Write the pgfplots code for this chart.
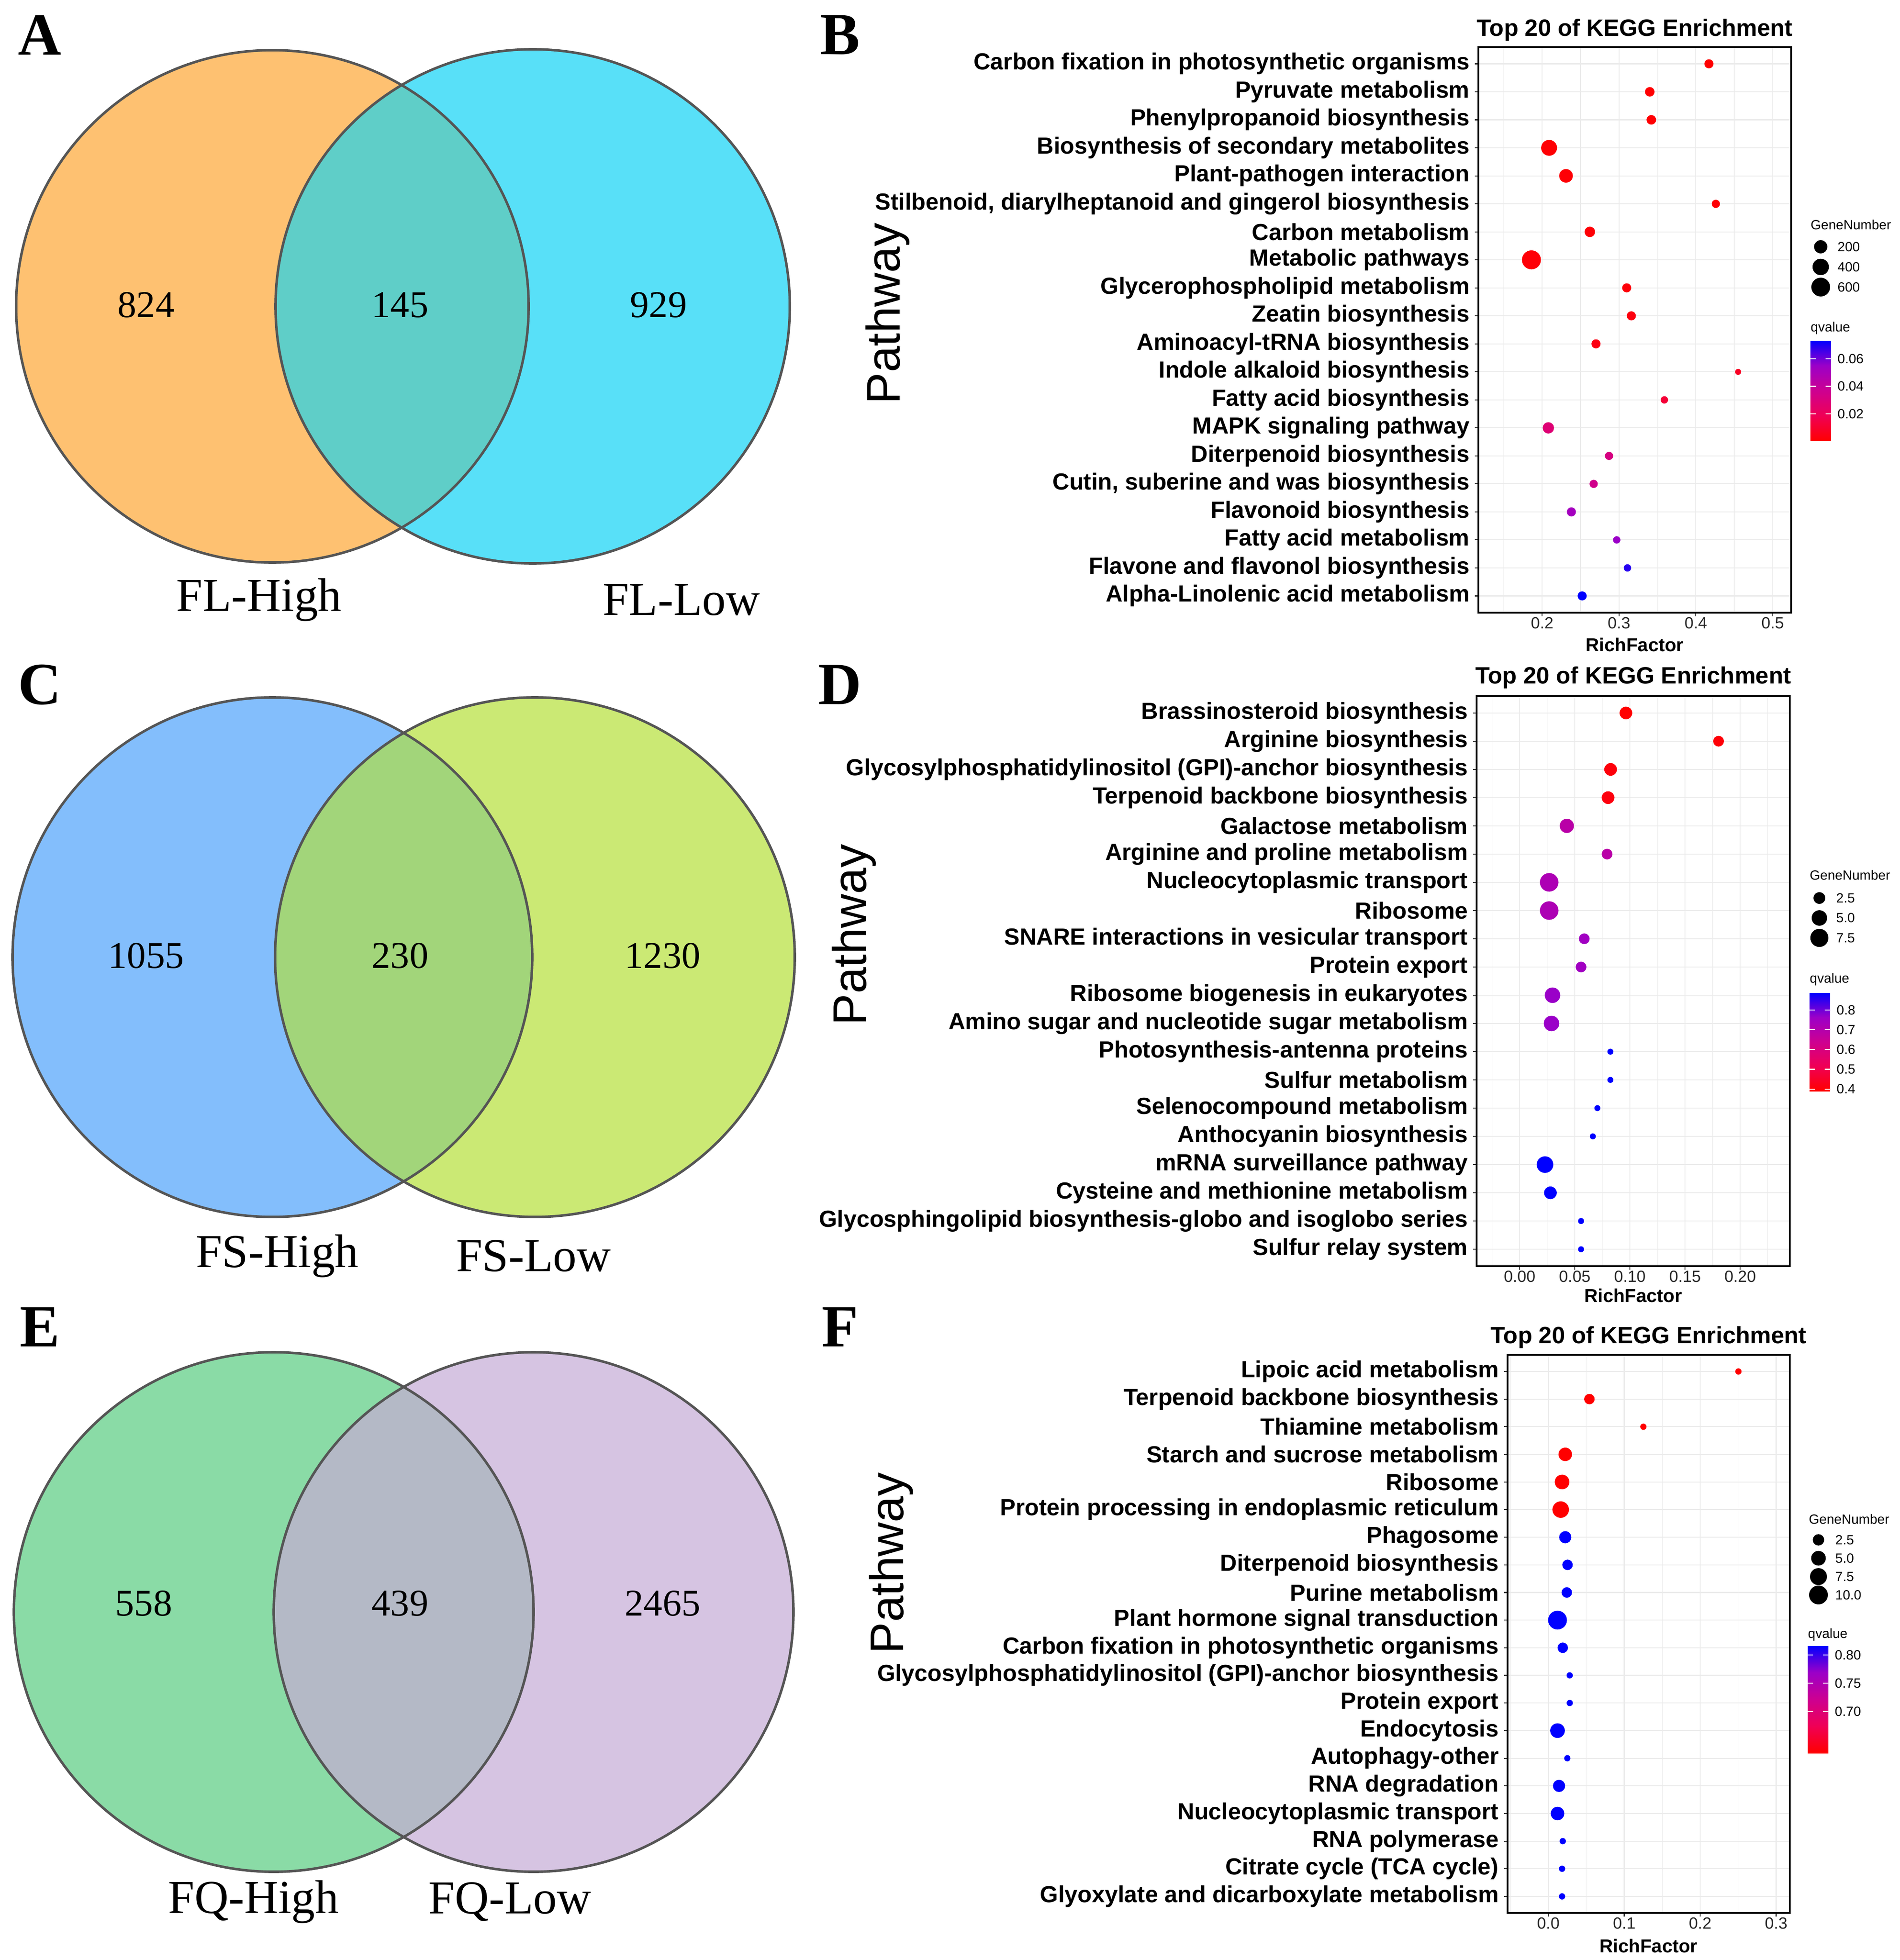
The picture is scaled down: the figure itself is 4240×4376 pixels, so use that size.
\documentclass[border=0pt]{standalone}
\usepackage{fontspec}
\setmainfont{Liberation Serif}
\setsansfont{Liberation Sans}
\usepackage{pgfplots}
\usepackage{pgfplotstable}
\pgfplotsset{compat=1.18}

% venn colours
\definecolor{aL}{RGB}{254,193,113}
\definecolor{aR}{RGB}{88,224,248}
\definecolor{aO}{RGB}{95,206,200}
\definecolor{cL}{RGB}{131,190,252}
\definecolor{cR}{RGB}{203,233,116}
\definecolor{cO}{RGB}{162,213,122}
\definecolor{eL}{RGB}{138,219,166}
\definecolor{eR}{RGB}{214,196,226}
\definecolor{eO}{RGB}{180,185,198}
\definecolor{vline}{RGB}{85,85,85}
\definecolor{gridc}{RGB}{235,235,235}

\newcommand\catfont{\sffamily\bfseries\fontsize{14.8}{17}\selectfont}
\newcommand\tickfont{\sffamily\fontsize{10.3}{12}\selectfont}
\newcommand\legfont{\sffamily\fontsize{8.5}{10}\selectfont}
\newcommand\titlefont{\sffamily\bfseries\fontsize{15}{18}\selectfont}
\newcommand\xlabfont{\sffamily\bfseries\fontsize{11.9}{14}\selectfont}
\newcommand\pathfont{\sffamily\fontsize{30}{34}\selectfont}
\newcommand\numfont{\rmfamily\fontsize{24}{27}\selectfont}
\newcommand\setfont{\rmfamily\fontsize{30}{34}\selectfont}
\newcommand\letterfont{\rmfamily\bfseries\fontsize{38}{42}\selectfont}

% KEGG tables: pathway; RichFactor; GeneNumber; qvalue
\pgfplotstableread[col sep=semicolon]{
name;rich;gene;q
Carbon fixation in photosynthetic organisms;0.417;45;0.0002
Pyruvate metabolism;0.340;56;0.0004
Phenylpropanoid biosynthesis;0.342;56;0.0006
Biosynthesis of secondary metabolites;0.209;361;0.0008
Plant-pathogen interaction;0.231;220;0.0010
{Stilbenoid, diarylheptanoid and gingerol biosynthesis};0.426;28;0.0012
Carbon metabolism;0.262;83;0.0014
Metabolic pathways;0.186;620;0.0016
Glycerophospholipid metabolism;0.310;45;0.0020
Zeatin biosynthesis;0.316;45;0.0030
Aminoacyl-tRNA biosynthesis;0.270;45;0.0040
Indole alkaloid biosynthesis;0.455;10;0.0080
Fatty acid biosynthesis;0.359;17;0.0120
MAPK signaling pathway;0.208;114;0.0280
Diterpenoid biosynthesis;0.287;28;0.0320
{Cutin, suberine and was biosynthesis};0.267;28;0.0350
Flavonoid biosynthesis;0.238;45;0.0520
Fatty acid metabolism;0.297;17;0.0550
Flavone and flavonol biosynthesis;0.311;17;0.0690
Alpha-Linolenic acid metabolism;0.252;45;0.0735
}\tabB

\pgfplotstableread[col sep=semicolon]{
name;rich;gene;q
Brassinosteroid biosynthesis;0.0964;3;0.390
Arginine biosynthesis;0.1804;2;0.400
Glycosylphosphatidylinositol (GPI)-anchor biosynthesis;0.0825;3;0.405
Terpenoid backbone biosynthesis;0.0802;3;0.410
Galactose metabolism;0.0428;4;0.690
Arginine and proline metabolism;0.0793;2;0.690
Nucleocytoplasmic transport;0.0268;8;0.720
Ribosome;0.0268;8;0.720
SNARE interactions in vesicular transport;0.0586;2;0.750
Protein export;0.0557;2;0.750
Ribosome biogenesis in eukaryotes;0.0298;5;0.765
Amino sugar and nucleotide sugar metabolism;0.0289;5;0.765
Photosynthesis-antenna proteins;0.0823;1;0.889
Sulfur metabolism;0.0823;1;0.889
Selenocompound metabolism;0.0705;1;0.889
Anthocyanin biosynthesis;0.0664;1;0.889
mRNA surveillance pathway;0.0230;6;0.889
Cysteine and methionine metabolism;0.0279;3;0.889
Glycosphingolipid biosynthesis-globo and isoglobo series;0.0557;1;0.889
Sulfur relay system;0.0557;1;0.889
}\tabD

\pgfplotstableread[col sep=semicolon]{
name;rich;gene;q
Lipoic acid metabolism;0.2503;1;0.626
Terpenoid backbone biosynthesis;0.0541;2;0.626
Thiamine metabolism;0.1252;1;0.626
Starch and sucrose metabolism;0.0223;4;0.626
Ribosome;0.0181;5;0.626
Protein processing in endoplasmic reticulum;0.0163;7;0.626
Phagosome;0.0223;3;0.817
Diterpenoid biosynthesis;0.0253;2;0.817
Purine metabolism;0.0243;2;0.817
Plant hormone signal transduction;0.0121;10;0.817
Carbon fixation in photosynthetic organisms;0.0190;2;0.817
Glycosylphosphatidylinositol (GPI)-anchor biosynthesis;0.0282;1;0.817
Protein export;0.0282;1;0.817
Endocytosis;0.0121;5;0.817
Autophagy-other;0.0250;1;0.817
RNA degradation;0.0141;3;0.817
Nucleocytoplasmic transport;0.0121;4;0.817
RNA polymerase;0.0190;1;0.817
Citrate cycle (TCA cycle);0.0181;1;0.817
Glyoxylate and dicarboxylate metabolism;0.0181;1;0.817
}\tabF

% size legends
\pgfplotstableread{
gene y lab
200 3 200
400 2 400
600 1 600
}\legB
\pgfplotstableread{
gene y lab
2.5 3 2.5
5.0 2 5.0
7.5 1 7.5
}\legD
\pgfplotstableread{
gene y lab
2.5 4 2.5
5.0 3 5.0
7.5 2 7.5
10.0 1 10.0
}\legF

\pgfplotsset{
  colormap={rb}{rgb255=(255,0,0) rgb255=(240,0,85) rgb255=(205,0,145) rgb255=(155,0,200) rgb255=(0,0,255)},
  every axis/.append style={/pgf/number format/assume math mode=true},
  every axis title shift=0pt,
  % dot size: diameter in 0.1mm = #1 + #2*sqrt((n-#3)/#4)
  gsize/.style n args={4}{
    visualization depends on={#1+#2*sqrt((\thisrow{gene}-#3)/#4) \as \dd},
    scatter/@pre marker code/.append style={/tikz/mark size=0.14226*\dd},
  },
  kegg/.style={
    scale only axis, anchor=south west,
    ymin=0.4, ymax=20.6, ytick=data,
    tick align=outside, xtick pos=bottom, ytick pos=left,
    major tick length=0.8mm, minor tick length=0pt,
    major tick style={black!80, line width=0.6pt},
    axis line style={black, line width=1pt},
    xmajorgrids, xminorgrids, ymajorgrids,
    major grid style={draw=gridc, line width=0.6pt},
    minor grid style={draw=gridc, line width=0.35pt},
    yticklabel style={font=\catfont, inner sep=0pt, xshift=-1.1mm},
    xticklabel style={font=\tickfont, text=black!85, inner sep=0pt, yshift=-0.2mm},
    title={Top 20 of KEGG Enrichment},
    title style={at={(0.5,1)}, anchor=base, font=\titlefont, inner sep=0pt},
    xlabel=RichFactor,
    xlabel style={at={(0.5,0)}, anchor=center, font=\xlabfont, inner sep=0pt},
    colormap name=rb,
  },
  cbar/.style n args={6}{
    colorbar,
    colorbar style={
      at={(parent axis.south east)}, anchor=south west,
      xshift=#1, yshift=#2, scale only axis, width=4.6mm, height=#3,
      axis line style={draw=none}, scaled y ticks=false,
      ytick={#4}, tick align=inside, ytick pos=both, yticklabel pos=right,
      major tick length=1.2mm, major tick style={white, line width=0.6pt},
      yticklabel style={font=\legfont, anchor=west, inner sep=0pt, xshift=1.4mm,
        /pgf/number format/fixed, /pgf/number format/precision=#5,
        /pgf/number format/fixed zerofill},
      title=qvalue,
      title style={at={(0,1)}, anchor=base west, yshift=#6, font=\legfont, inner sep=0pt},
    },
  },
  leg/.style={
    scale only axis, anchor=south west, width=6mm,
    xmin=-1, xmax=1, ymin=0.5,
    axis line style={draw=none}, xtick=\empty, ytick=data,
    major tick length=0pt, ytick pos=right, yticklabel pos=right,
    yticklabel style={font=\legfont, anchor=west, inner sep=0pt, xshift=0.7mm},
    title=GeneNumber,
    title style={anchor=base west, font=\legfont, inner sep=0pt},
  },
}

\begin{document}
\begin{tikzpicture}[x=0.1mm, y=-0.1mm]
\useasboundingbox (0,0) rectangle (4240,4376);

% ---- background axis: venn diagrams, panel letters, y titles ----
\begin{axis}[at={(0mm,0mm)}, anchor=north west, scale only axis,
  width=424mm, height=437.6mm, xmin=0, xmax=4240, ymin=-4376, ymax=0,
  hide axis, clip=false]
  % A
  \fill[aL] (axis cs:608,-684) circle[radius=572];
  \fill[aR] (axis cs:1189,-684) circle[radius=574];
  \begin{scope}
    \clip (axis cs:608,-684) circle[radius=572];
    \fill[aO] (axis cs:1189,-684) circle[radius=574];
  \end{scope}
  \draw[vline, line width=1.6pt] (axis cs:608,-684) circle[radius=572];
  \draw[vline, line width=1.6pt] (axis cs:1189,-684) circle[radius=574];
  \node[font=\numfont] at (axis cs:326,-681) {824};
  \node[font=\numfont] at (axis cs:893,-681) {145};
  \node[font=\numfont] at (axis cs:1470,-681) {929};
  \node[font=\setfont] at (axis cs:578,-1339) {FL-High};
  \node[font=\setfont] at (axis cs:1521,-1339) {FL-Low};
  % C
  \fill[cL] (axis cs:608,-2137) circle[radius=580];
  \fill[cR] (axis cs:1194,-2137) circle[radius=580];
  \begin{scope}
    \clip (axis cs:608,-2137) circle[radius=580];
    \fill[cO] (axis cs:1194,-2137) circle[radius=580];
  \end{scope}
  \draw[vline, line width=1.6pt] (axis cs:608,-2137) circle[radius=580];
  \draw[vline, line width=1.6pt] (axis cs:1194,-2137) circle[radius=580];
  \node[font=\numfont] at (axis cs:326,-2134) {1055};
  \node[font=\numfont] at (axis cs:893,-2134) {230};
  \node[font=\numfont] at (axis cs:1479,-2134) {1230};
  \node[font=\setfont] at (axis cs:619,-2804) {FS-High};
  \node[font=\setfont] at (axis cs:1191,-2804) {FS-Low};
  % E
  \fill[eL] (axis cs:611,-3599) circle[radius=580];
  \fill[eR] (axis cs:1191,-3599) circle[radius=580];
  \begin{scope}
    \clip (axis cs:611,-3599) circle[radius=580];
    \fill[eO] (axis cs:1191,-3599) circle[radius=580];
  \end{scope}
  \draw[vline, line width=1.6pt] (axis cs:611,-3599) circle[radius=580];
  \draw[vline, line width=1.6pt] (axis cs:1191,-3599) circle[radius=580];
  \node[font=\numfont] at (axis cs:321,-3580) {558};
  \node[font=\numfont] at (axis cs:893,-3580) {439};
  \node[font=\numfont] at (axis cs:1479,-3580) {2465};
  \node[font=\setfont] at (axis cs:566,-4246) {FQ-High};
  \node[font=\setfont] at (axis cs:1138,-4246) {FQ-Low};
  % panel letters
  \node[font=\letterfont] at (axis cs:89,-78) {A};
  \node[font=\letterfont] at (axis cs:1875,-78) {B};
  \node[font=\letterfont] at (axis cs:89,-1529) {C};
  \node[font=\letterfont] at (axis cs:1875,-1529) {D};
  \node[font=\letterfont] at (axis cs:89,-2963) {E};
  \node[font=\letterfont] at (axis cs:1875,-2963) {F};
  % y titles of the dot plots
  \node[font=\pathfont, rotate=90] at (axis cs:1981,-700) {Pathway};
  \node[font=\pathfont, rotate=90] at (axis cs:1906,-2087) {Pathway};
  \node[font=\pathfont, rotate=90] at (axis cs:1989,-3490) {Pathway};
\end{axis}

% ---- B ----
\begin{axis}[kegg, at={(330mm,-136.8mm)}, width=69.8mm, height=126.3mm,
  xmin=0.117, xmax=0.524, xtick={0.2,0.3,0.4,0.5}, minor xtick={0.15,0.25,0.35,0.45},
  yticklabels from table={\tabB}{name},
  title style={yshift=2.4mm}, xlabel style={yshift=-7.2mm},
  point meta min=0, point meta max=0.0735,
  cbar={1.3mm}{38.3mm}{22.5mm}{0.02,0.04,0.06}{2}{1.9mm}]
\addplot[scatter, only marks, mark=*,
  scatter/use mapped color={draw=mapped color, fill=mapped color},
  gsize={12}{29}{10}{610},
  point meta=\thisrow{q}] table[x=rich, y expr=20-\coordindex] {\tabB};
\end{axis}
\begin{axis}[leg, at={(403.4mm,-66.35mm)}, height=13.5mm, ymax=3.5,
  yticklabels from table={\legB}{lab}, title style={at={(0.117,1)}, yshift=1.55mm}]
\addplot[scatter, only marks, mark=*,
  scatter/use mapped color={draw=black, fill=black},
  gsize={12}{29}{10}{610},
  point meta=\thisrow{gene}] table[x expr=0, y=y] {\legB};
\end{axis}

% ---- D ----
\begin{axis}[kegg, at={(329.6mm,-282.7mm)}, width=69.9mm, height=127.3mm,
  xmin=-0.039, xmax=0.245, xtick={0,0.05,0.1,0.15,0.2},
  minor xtick={-0.025,0.025,0.075,0.125,0.175,0.225},
  xticklabel style={/pgf/number format/fixed, /pgf/number format/precision=2,
    /pgf/number format/fixed zerofill},
  yticklabels from table={\tabD}{name},
  title style={yshift=2.8mm}, xlabel style={yshift=-6.6mm},
  point meta min=0.39, point meta max=0.889,
  cbar={1.4mm}{39.1mm}{22.0mm}{0.4,0.5,0.6,0.7,0.8}{1}{2.1mm}]
\addplot[scatter, only marks, mark=*,
  scatter/use mapped color={draw=mapped color, fill=mapped color},
  gsize={12}{28}{1}{7},
  point meta=\thisrow{q}] table[x=rich, y expr=20-\coordindex] {\tabD};
\end{axis}
\begin{axis}[leg, at={(403.1mm,-211.625mm)}, height=13.35mm, ymax=3.5,
  yticklabels from table={\legD}{lab}, title style={at={(0.133,1)}, yshift=1.78mm}]
\addplot[scatter, only marks, mark=*,
  scatter/use mapped color={draw=black, fill=black},
  gsize={12}{28}{1}{7},
  point meta=\thisrow{gene}] table[x expr=0, y=y] {\legD};
\end{axis}

% ---- F ----
\begin{axis}[kegg, at={(336.5mm,-427.1mm)}, width=63.0mm, height=124.6mm,
  xmin=-0.0537, xmax=0.318, xtick={0,0.1,0.2,0.3},
  minor xtick={-0.05,0.05,0.15,0.25},
  xticklabel style={/pgf/number format/fixed, /pgf/number format/precision=1,
    /pgf/number format/fixed zerofill},
  yticklabels from table={\tabF}{name},
  title style={yshift=2.6mm}, xlabel style={yshift=-7.4mm},
  point meta min=0.626, point meta max=0.817,
  cbar={1.0mm}{35.7mm}{24.0mm}{0.70,0.75,0.80}{2}{1.7mm}]
\addplot[scatter, only marks, mark=*,
  scatter/use mapped color={draw=mapped color, fill=mapped color},
  gsize={12.6}{28}{1}{9},
  point meta=\thisrow{q}] table[x=rich, y expr=20-\coordindex] {\tabF};
\end{axis}
\begin{axis}[leg, at={(402.9mm,-358.15mm)}, height=16.4mm, ymax=4.5,
  yticklabels from table={\legF}{lab}, title style={at={(0.133,1)}, yshift=1.55mm}]
\addplot[scatter, only marks, mark=*,
  scatter/use mapped color={draw=black, fill=black},
  gsize={12.6}{28}{1}{9},
  point meta=\thisrow{gene}] table[x expr=0, y=y] {\legF};
\end{axis}
\end{tikzpicture}
\end{document}
